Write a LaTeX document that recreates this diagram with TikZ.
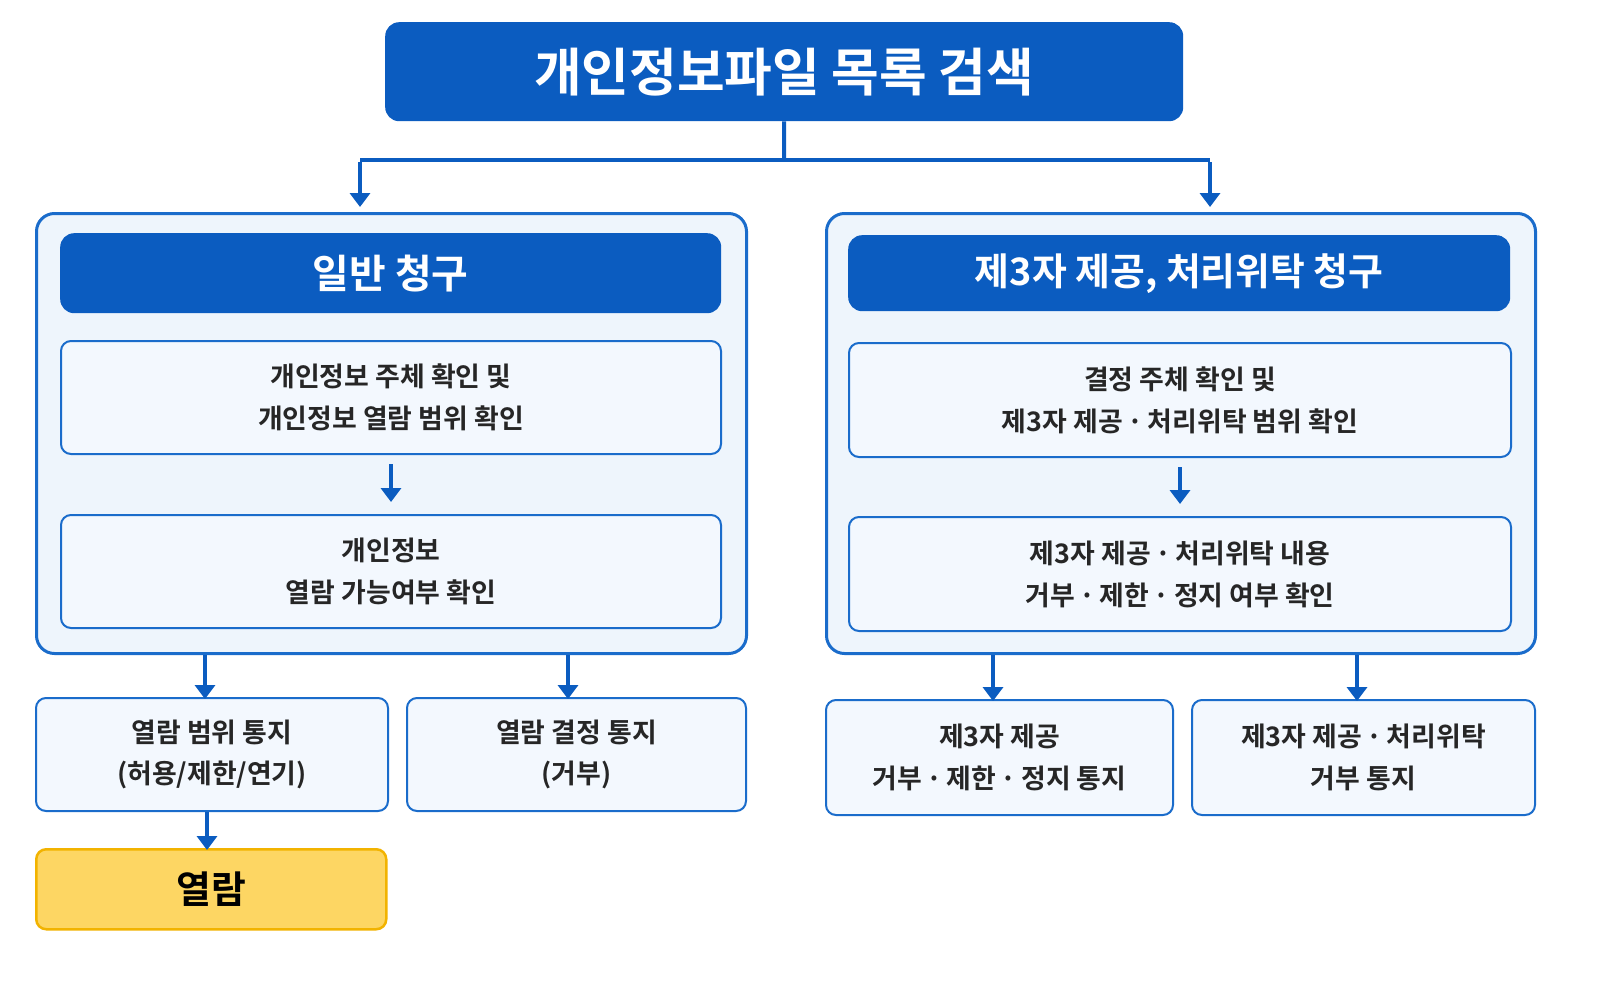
\documentclass[tikz,border=0pt]{standalone}
\usepackage{fontspec}
\setmainfont{Noto Sans CJK KR}[BoldFont={Noto Sans CJK KR Bold}]
\usetikzlibrary{arrows.meta}
\definecolor{dblue}{HTML}{0B5CC0}
\definecolor{mblue}{HTML}{1A6CCB}
\definecolor{lbg}{HTML}{EEF5FC}
\definecolor{bfill}{HTML}{F3F8FE}
\definecolor{ybox}{HTML}{FDD663}
\definecolor{yedge}{HTML}{F2B300}
\begin{document}
\begin{tikzpicture}[x=1bp,y=-1bp,
 cont/.style={draw=mblue,line width=3bp,fill=lbg,rounded corners=18bp},
 head/.style={fill=dblue,rounded corners=14bp},
 box/.style={draw=mblue,line width=2bp,fill=bfill,rounded corners=10bp},
 txt/.style={align=center,font=\fontsize{27}{42}\selectfont\bfseries,text=black!85},
 arr/.style={draw=dblue,line width=4bp,-{Triangle[length=14bp,width=20bp]}}]
\useasboundingbox (0,0) rectangle (1599,984);
\fill[white] (0,0) rectangle (1599,984);
\node[head,minimum width=798bp,minimum height=99bp,anchor=north west,text=white,font=\fontsize{52}{58}\selectfont\bfseries] (title) at (385,22) {개인정보파일 목록 검색};
\coordinate (j) at (784,160);
\coordinate (jl) at (360,160);
\coordinate (jr) at (1210,160);
\coordinate (al) at (360,207);
\coordinate (ar) at (1210,207);
\draw[draw=dblue,line width=4bp] (title.south) -- (j);
\draw[draw=dblue,line width=4bp] (jl) -- (jr);
\draw[arr] ([yshift=-2bp]jl) -- (al);
\draw[arr] ([yshift=-2bp]jr) -- (ar);
\node[cont,minimum width=710bp,minimum height=440bp,anchor=north west] (lc) at (35,212) {};
\node[cont,minimum width=709bp,minimum height=440bp,anchor=north west] (rc) at (825,212) {};
\node[head,minimum width=661bp,minimum height=80bp,anchor=north west,text=white,font=\fontsize{40}{46}\selectfont\bfseries] (lh) at (60,233) {일반 청구};
\node[head,minimum width=662bp,minimum height=76bp,anchor=north west,text=white,font=\fontsize{38}{46}\selectfont\bfseries] (rh) at (848,235) {제3자 제공, 처리위탁 청구};
\node[box,txt,minimum width=660bp,minimum height=113bp,anchor=north west] (b1) at (60,340) {개인정보 주체 확인 및\\개인정보 열람 범위 확인};
\node[box,txt,minimum width=660bp,minimum height=113bp,anchor=north west] (b2) at (60,514) {개인정보\\열람 가능여부 확인};
\node[box,txt,minimum width=662bp,minimum height=114bp,anchor=north west] (b3) at (848,342) {결정 주체 확인 및\\제3자 제공\,·\,처리위탁 범위 확인};
\node[box,txt,minimum width=662bp,minimum height=114bp,anchor=north west] (b4) at (848,516) {제3자 제공\,·\,처리위탁 내용\\거부\,·\,제한\,·\,정지 여부 확인};
\draw[arr] ([yshift=-9bp]b1.south) -- ([yshift=12bp]b2.north);
\draw[arr] ([yshift=-9bp]b3.south) -- ([yshift=12bp]b4.north);
\node[box,txt,minimum width=352bp,minimum height=113bp,anchor=north west] (l1) at (35,697) {열람 범위 통지\\(허용/제한/연기)};
\node[box,txt,minimum width=339bp,minimum height=113bp,anchor=north west] (l2) at (406,697) {열람 결정 통지\\(거부)};
\node[box,txt,minimum width=347bp,minimum height=115bp,anchor=north west] (r1) at (825,699) {제3자 제공\\거부\,·\,제한\,·\,정지 통지};
\node[box,txt,minimum width=343bp,minimum height=115bp,anchor=north west] (r2) at (1191,699) {제3자 제공\,·\,처리위탁\\거부 통지};
\node[draw=yedge,line width=2.5bp,fill=ybox,rounded corners=10bp,minimum width=350bp,minimum height=80bp,anchor=north west,font=\fontsize{38}{42}\selectfont\bfseries] (yl) at (35,848) {열람};
\draw[arr] (lc.south -| 205,0) -- ([yshift=-2bp]l1.north -| 205,0);
\draw[arr] (lc.south -| 568,0) -- ([yshift=-2bp]l2.north -| 568,0);
\draw[arr] (rc.south -| 993,0) -- ([yshift=-2bp]r1.north -| 993,0);
\draw[arr] (rc.south -| 1357,0) -- ([yshift=-2bp]r2.north -| 1357,0);
\draw[arr] (l1.south -| 207,0) -- ([yshift=-2bp]yl.north -| 207,0);
\end{tikzpicture}
\end{document}
